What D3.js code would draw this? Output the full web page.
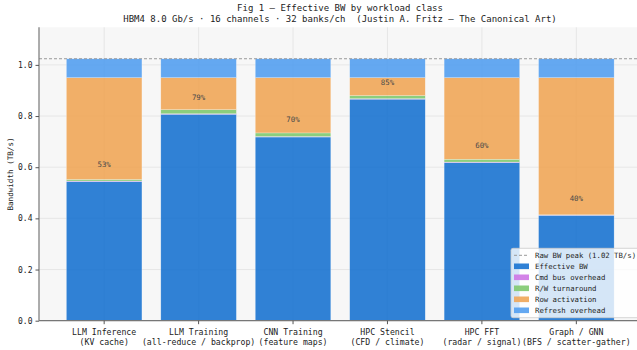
<!DOCTYPE html>
<html>
<head>
<meta charset="utf-8">
<script src="https://cdn.jsdelivr.net/npm/d3@7"></script>
<style>
  body { margin: 0; background: #fff; }
  svg { font-family: "DejaVu Sans Mono", monospace; }
</style>
</head>
<body>
<div id="chart"></div>
<script>
const categories = [
  ['LLM Inference', '(KV cache)'],
  ['LLM Training', '(all-reduce / backprop)'],
  ['CNN Training', '(feature maps)'],
  ['HPC Stencil', '(CFD / climate)'],
  ['HPC FFT', '(radar / signal)'],
  ['Graph / GNN', '(BFS / scatter-gather)'],
];
const effective = [0.544, 0.807, 0.718, 0.866, 0.618, 0.412];
const cmdBus = [0.002, 0.002, 0.002, 0.002, 0.002, 0.001];
const rwTurn = [0.006, 0.016, 0.014, 0.012, 0.011, 0.001];
const rowAct = [0.398, 0.125, 0.216, 0.070, 0.319, 0.536];
const refresh = [0.074, 0.074, 0.074, 0.074, 0.074, 0.074];
const peakBW = 1.024;
const yTicks = [0, 0.2, 0.4, 0.6, 0.8, 1.0];

const seriesNames = ['Effective BW', 'Cmd bus overhead', 'R/W turnaround', 'Row activation', 'Refresh overhead'];
const seriesColors = ['#1a73d0', '#ce75e4', '#80c96f', '#efa658', '#539eef'];
const seriesValues = [effective, cmdBus, rwTurn, rowAct, refresh];

const W = 637, H = 350;
const margin = { left: 39, top: 27.3, bottom: 29.3 };
const plotRight = 641.5;

const svg = d3.select('#chart').append('svg')
  .attr('width', W)
  .attr('height', H);

const rows = categories.map((c, i) => {
  const r = { key: c.join(' ') };
  seriesNames.forEach((s, j) => { r[s] = seriesValues[j][i]; });
  return r;
});

const x = d3.scaleBand()
  .domain(rows.map(d => d.key))
  .range([margin.left, plotRight])
  .paddingInner(0.2)
  .paddingOuter(0.29);

const y = d3.scaleLinear()
  .domain([0, peakBW * 1.12])
  .range([H - margin.bottom, margin.top]);

// axes background
svg.append('rect')
  .attr('x', margin.left)
  .attr('y', margin.top)
  .attr('width', plotRight - margin.left)
  .attr('height', y(0) - margin.top)
  .attr('fill', '#f7f7f7');

// grid
const grid = svg.append('g').attr('stroke', '#e2e2e2').attr('stroke-width', 0.8);
grid.selectAll('line.h')
  .data(yTicks)
  .join('line')
  .attr('x1', margin.left).attr('x2', plotRight)
  .attr('y1', d => y(d)).attr('y2', d => y(d));
grid.selectAll('line.v')
  .data(rows)
  .join('line')
  .attr('x1', d => x(d.key) + x.bandwidth() / 2)
  .attr('x2', d => x(d.key) + x.bandwidth() / 2)
  .attr('y1', margin.top).attr('y2', y(0));

// stacked bars
const stacked = d3.stack().keys(seriesNames)(rows);
svg.append('g')
  .selectAll('g')
  .data(stacked)
  .join('g')
  .attr('fill', (d, i) => seriesColors[i])
  .attr('fill-opacity', 0.9)
  .selectAll('rect')
  .data(d => d)
  .join('rect')
  .attr('x', d => x(d.data.key))
  .attr('width', x.bandwidth())
  .attr('y', d => y(d[1]))
  .attr('height', d => y(d[0]) - y(d[1]))
  .attr('stroke', '#ffffff')
  .attr('stroke-opacity', 0.5)
  .attr('stroke-width', 0.5);

// peak line
svg.append('line')
  .attr('x1', margin.left).attr('x2', plotRight)
  .attr('y1', y(peakBW)).attr('y2', y(peakBW))
  .attr('stroke', '#999')
  .attr('stroke-width', 1)
  .attr('stroke-dasharray', '3,2');

// efficiency labels
const pct = d3.format('.0%');
svg.append('g')
  .selectAll('text')
  .data(rows)
  .join('text')
  .attr('x', d => x(d.key) + x.bandwidth() / 2)
  .attr('y', d => y(d['Effective BW'] + 0.067))
  .attr('text-anchor', 'middle')
  .attr('dominant-baseline', 'central')
  .attr('font-size', 7.4)
  .attr('fill', '#4a4a4a')
  .text(d => pct(d['Effective BW'] / peakBW));

// y axis
const yAxis = svg.append('g')
  .attr('transform', `translate(${margin.left},0)`)
  .call(d3.axisLeft(y).tickValues(yTicks).tickFormat(d3.format('.1f')).tickSize(3.5).tickPadding(3));
yAxis.select('.domain').attr('stroke', '#777').attr('stroke-width', 1.2)
  .attr('d', `M0,${margin.top}V${y(0)}`);
yAxis.selectAll('.tick line').attr('stroke', '#555');
yAxis.selectAll('.tick text').attr('font-size', 8).attr('fill', '#222')
  .attr('font-family', '"DejaVu Sans Mono", monospace');

// x axis
const xAxis = svg.append('g')
  .attr('transform', `translate(0,${y(0)})`)
  .call(d3.axisBottom(x).tickSize(3.5).tickFormat(''));
xAxis.select('.domain').attr('stroke', '#777').attr('stroke-width', 1.2)
  .attr('d', `M${margin.left},0H${plotRight}`);
xAxis.selectAll('.tick line').attr('stroke', '#555');
xAxis.selectAll('.tick')
  .append('text')
  .attr('fill', '#222')
  .attr('font-size', 8.2)
  .attr('text-anchor', 'middle')
  .attr('font-family', '"DejaVu Sans Mono", monospace')
  .selectAll('tspan')
  .data((d, i) => categories[i])
  .join('tspan')
  .attr('x', 0)
  .attr('y', (d, i) => 14 + i * 10)
  .text(d => d);

// y label
svg.append('text')
  .attr('transform', `translate(10.5,${(margin.top + y(0)) / 2}) rotate(-90)`)
  .attr('text-anchor', 'middle')
  .attr('dominant-baseline', 'central')
  .attr('font-size', 7.6)
  .attr('fill', '#222')
  .text('Bandwidth (TB/s)');

// titles
svg.append('text')
  .attr('x', 340).attr('y', 10.5)
  .attr('text-anchor', 'middle')
  .attr('font-size', 9)
  .attr('fill', '#222')
  .text('Fig 1 — Effective BW by workload class');
svg.append('text')
  .attr('x', 340).attr('y', 21.5)
  .attr('text-anchor', 'middle')
  .attr('font-size', 9)
  .attr('fill', '#222')
  .style('white-space', 'pre')
  .text('HBM4 8.0 Gb/s · 16 channels · 32 banks/ch  (Justin A. Fritz — The Canonical Art)');

// legend
const lg = svg.append('g').attr('transform', 'translate(511,248.3)');
lg.append('rect')
  .attr('width', 150).attr('height', 69.4)
  .attr('rx', 2)
  .attr('fill', '#fff').attr('fill-opacity', 0.8)
  .attr('stroke', '#ccc').attr('stroke-width', 0.8);
const legendItems = [{ name: `Raw BW peak (${peakBW.toFixed(2)} TB/s)`, line: true }]
  .concat(seriesNames.map((s, i) => ({ name: s, color: seriesColors[i] })));
const li = lg.selectAll('g.item')
  .data(legendItems)
  .join('g')
  .attr('transform', (d, i) => `translate(0,${7 + i * 11})`);
li.filter(d => d.line).append('line')
  .attr('x1', 3).attr('x2', 18).attr('y1', 0).attr('y2', 0)
  .attr('stroke', '#999').attr('stroke-dasharray', '3,2');
li.filter(d => !d.line).append('rect')
  .attr('x', 3).attr('y', -2.8).attr('width', 15).attr('height', 5.6)
  .attr('fill', d => d.color).attr('fill-opacity', 0.9);
li.append('text')
  .attr('x', 24).attr('y', 0)
  .attr('dominant-baseline', 'central')
  .attr('font-size', 7.3)
  .attr('fill', '#222')
  .text(d => d.name);
</script>
</body>
</html>
